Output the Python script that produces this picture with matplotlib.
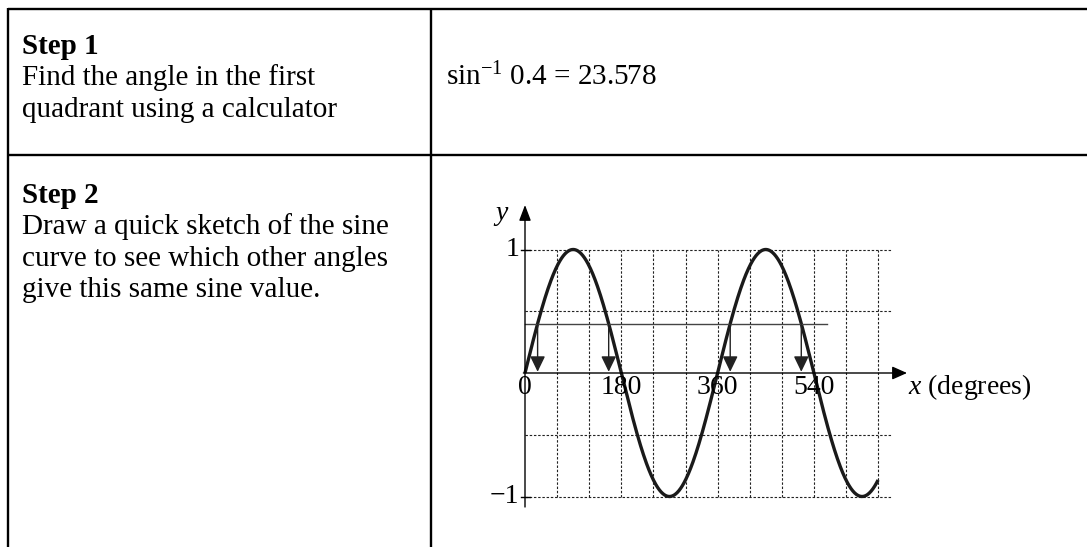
import numpy as np
import matplotlib
matplotlib.use('Agg')
import matplotlib.pyplot as plt

plt.rcParams['font.family'] = ['Liberation Serif', 'DejaVu Serif']
plt.rcParams['mathtext.fontset'] = 'custom'
plt.rcParams['mathtext.rm'] = 'Liberation Serif'
plt.rcParams['mathtext.it'] = 'Liberation Serif:italic'

# table text
step_titles = ['Step 1', 'Step 2']
step_texts = [['Find the angle in the first', 'quadrant using a calculator'],
              ['Draw a quick sketch of the sine', 'curve to see which other angles',
               'give this same sine value.']]
result_text = 'sin$^{-1}$ 0.4 = 23.578'

# sketch data
sine_value = 0.4
solution_angles = [23.578, 156.422, 383.578, 516.422]
curve_end = 660
x_tick_values = [0, 180, 360, 540]
x_tick_labels = ['0', '180', '360', '540']
y_tick_values = [1, -1]
y_tick_labels = ['1', '\u22121']
grid_x = [60, 120, 180, 240, 300, 360, 420, 480, 540, 600, 660]
grid_y = [1, 0.5, -0.5, -1]

W, H = 1087, 547
fig = plt.figure(figsize=(W / 100, H / 100), dpi=100)

# table frame in pixel coords
ax_t = fig.add_axes([0, 0, 1, 1])
ax_t.set_xlim(0, W)
ax_t.set_ylim(H, 0)
ax_t.axis('off')
lw_t = 1.7
ax_t.plot([8, W], [9, 9], color='black', lw=lw_t, solid_capstyle='butt')
ax_t.plot([8, W], [155, 155], color='black', lw=lw_t, solid_capstyle='butt')
ax_t.plot([8, 8], [8, H], color='black', lw=lw_t, solid_capstyle='butt')
ax_t.plot([431, 431], [8, H], color='black', lw=lw_t, solid_capstyle='butt')

fs_t = 21
line_h = 31.3
for title, lines, y0 in zip(step_titles, step_texts, [54, 203]):
    ax_t.text(22, y0, title, fontsize=fs_t, fontweight='bold', va='baseline')
    for i, ln in enumerate(lines):
        ax_t.text(22, y0 + line_h * (i + 1), ln, fontsize=fs_t, va='baseline')
ax_t.text(446, 85, result_text, fontsize=fs_t, va='baseline')

# sine sketch axes, pixel mapping
X0, Y0 = 525, 373
PPD = 96.3 / 180
PPU = 123.5
L, R, T, B = 440, W, 180, 540
ax = fig.add_axes([L / W, 1 - B / H, (R - L) / W, (B - T) / H])
ax.set_xlim((L - X0) / PPD, (R - X0) / PPD)
ax.set_ylim((Y0 - B) / PPU, (Y0 - T) / PPU)
ax.axis('off')
ax.patch.set_alpha(0)

fs = 20
dash = (0, (2.2, 1.6))
for gx in grid_x:
    ax.plot([gx, gx], [-1, 1], color='#222222', lw=0.8, ls=dash)
for gy in grid_y:
    ax.plot([0, 686], [gy, gy], color='#222222', lw=0.8, ls=dash)

xs = np.linspace(0, curve_end, 600)
ax.plot(xs, np.sin(np.radians(xs)), color='#1a1a1a', lw=2.4, solid_capstyle='butt')

ax.plot([0, 564], [sine_value, sine_value], color='#444444', lw=1.0)
for a in solution_angles:
    ax.annotate('', xy=(a, 0.01), xytext=(a, sine_value),
                arrowprops=dict(arrowstyle='-|>,head_length=0.95,head_width=0.46',
                                mutation_scale=10, color='#222222', lw=1.0,
                                shrinkA=0, shrinkB=0))

# axes with arrows
ax.annotate('', xy=(0, (Y0 - 205) / PPU), xytext=(0, (Y0 - 507) / PPU),
            arrowprops=dict(arrowstyle='-|>,head_length=0.95,head_width=0.36',
                            mutation_scale=10, color='black', lw=1.0,
                            shrinkA=0, shrinkB=0))
ax.annotate('', xy=((907 - X0) / PPD, 0), xytext=(-3, 0),
            arrowprops=dict(arrowstyle='-|>,head_length=0.9,head_width=0.4',
                            mutation_scale=10, color='black', lw=1.0,
                            shrinkA=0, shrinkB=0))

for v, lab in zip(y_tick_values, y_tick_labels):
    ax.plot([-7.5, 9], [v, v], color='black', lw=1.0)
    ax.text(-11, v, lab, fontsize=fs, ha='right', va='center')
for v, lab in zip(x_tick_values, x_tick_labels):
    ax.text(v, -0.12, lab, fontsize=fs, ha='center', va='center')

ax.text((908 - X0) / PPD, -0.115, '$x$ (degrees)', fontsize=fs, ha='left', va='center')
ax.text((501 - X0) / PPD, (Y0 - 215) / PPU, '$y$', fontsize=fs, ha='center', va='center')

fig.savefig('out.png', dpi=100)
